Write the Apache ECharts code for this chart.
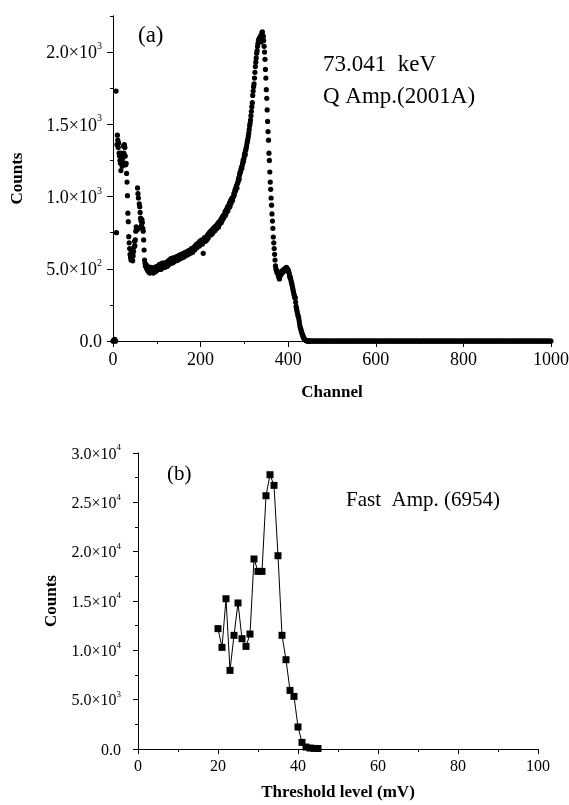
<!DOCTYPE html>
<html>
<head>
<meta charset="utf-8">
<script src="https://cdn.jsdelivr.net/npm/echarts@6/dist/echarts.min.js"></script>
<style>
html,body{margin:0;padding:0;background:#fff;}
#chart{width:569px;height:805px;}
</style>
</head>
<body>
<div id="chart"></div>
<script>
// ---------- Panel (a): pulse-height spectrum, counts per channel ----------
// counts for channels 0..449 (one value per channel)
const spectrumCounts = [
  0, 0, 8, 0, 12, 0, 0, 1730, 750, 1360,
  1425, 1390, 1340, 1370, 1300, 1280, 1250, 1230, 1180, 1300,
  1260, 1210, 1240, 1270, 1350, 1300, 1360, 1340, 1280, 1220,
  1230, 1160, 1100, 1006, 885, 826, 722, 680, 640, 600,
  580, 560, 620, 570, 600, 555, 590, 620, 650, 690,
  660, 700, 760, 790, 780, 770, 1060, 1020, 990, 780,
  950, 930, 890, 850, 830, 800, 840, 820, 780, 760,
  700, 630, 560, 540, 520, 530, 510, 500, 520, 490,
  505, 480, 510, 495, 470, 500, 485, 510, 478, 495,
  505, 482, 470, 498, 488, 492, 510, 480, 500, 515,
  488, 505, 495, 520, 498, 512, 530, 500, 518, 495,
  525, 510, 540, 505, 520, 528, 515, 540, 522, 510,
  535, 545, 520, 530, 518, 540, 555, 528, 545, 560,
  535, 552, 570, 540, 548, 558, 540, 575, 552, 565,
  548, 570, 555, 580, 560, 570, 585, 558, 575, 590,
  565, 578, 595, 570, 582, 585, 600, 575, 592, 588,
  605, 580, 598, 610, 590, 600, 590, 615, 605, 595,
  620, 608, 600, 625, 610, 618, 630, 608, 625, 640,
  620, 635, 615, 645, 630, 640, 650, 632, 660, 645,
  655, 670, 648, 662, 675, 665, 680, 658, 690, 675,
  668, 695, 680, 700, 672, 690, 607, 700, 695, 715,
  705, 690, 720, 710, 700, 720, 735, 712, 740, 728,
  750, 738, 745, 760, 735, 752, 770, 745, 765, 780,
  758, 775, 790, 765, 785, 785, 800, 778, 795, 812,
  800, 790, 825, 808, 818, 825, 840, 818, 850, 835,
  860, 845, 870, 855, 865, 880, 895, 870, 905, 890,
  912, 925, 900, 935, 920, 940, 955, 930, 968, 950,
  980, 965, 990, 975, 995, 1000, 1020, 1010, 1035, 1050,
  1040, 1065, 1075, 1060, 1090, 1095, 1110, 1130, 1120, 1150,
  1165, 1170, 1185, 1200, 1195, 1215, 1230, 1250, 1245, 1265,
  1285, 1300, 1290, 1320, 1335, 1350, 1370, 1385, 1400, 1420,
  1440, 1465, 1490, 1507, 1530, 1560, 1590, 1622, 1650, 1700,
  1730, 1761, 1780, 1820, 1860, 1900, 1930, 1960, 1992, 2010,
  2040, 2060, 2084, 2070, 2095, 2100, 2080, 2110, 2070, 2120,
  2135, 2140, 2095, 2110, 2080, 2040, 2000, 1950, 1880, 1820,
  1740, 1680, 1600, 1520, 1450, 1390, 1300, 1250, 1170, 1100,
  1050, 990, 940, 880, 830, 780, 720, 680, 640, 600,
  560, 520, 500, 490, 480, 470, 480, 460, 450, 440,
  430, 450, 470, 455, 470, 480, 470, 485, 490, 480,
  495, 490, 500, 495, 505, 500, 510, 503, 500, 495,
  490, 480, 470, 455, 440, 440, 425, 410, 400, 385,
  370, 355, 340, 325, 315, 300, 300, 270, 240, 225,
  210, 195, 180, 170, 160, 140, 120, 100, 90, 80,
  68, 58, 48, 40, 32, 25, 19, 14, 10, 7,
  5, 3, 2, 1, 1, 0, 0, 0, 0, 0
];
// counts for channels 450, 452, ..., 1000
const tailStartChannel = 450;
const tailChannelStep = 2;
const tailCounts = [
  0,0,0,0,0,0,0,0,0,0, 0,0,0,0,0,0,0,0,0,0,
  0,0,0,0,0,0,0,0,0,0, 0,0,0,0,0,0,0,0,0,0,
  0,0,0,0,0,0,0,0,0,0, 0,0,0,0,0,0,0,0,0,0,
  0,0,0,0,0,0,0,0,0,0, 0,0,0,0,0,0,0,0,0,0,
  0,0,0,0,0,0,0,0,0,0, 0,0,0,0,0,0,0,0,0,0,
  0,0,0,0,0,0,0,0,0,0, 0,0,0,0,0,0,0,0,0,0,
  0,0,0,0,0,0,0,0,0,0, 0,0,0,0,0,0,0,0,0,0,
  0,0,0,0,0,0,0,0,0,0, 0,0,0,0,0,0,0,0,0,0,
  0,0,0,0,0,0,0,0,0,0, 0,0,0,0,0,0,0,0,0,0,
  0,0,0,0,0,0,0,0,0,0, 0,0,0,0,0,0,0,0,0,0,
  0,0,0,0,0,0,0,0,0,0, 0,0,0,0,0,0,0,0,0,0,
  0,0,0,0,0,0,0,0,0,0, 0,0,0,0,0,0,0,0,0,0,
  0,0,0,0,0,0,0,0,0,0, 0,0,0,0,0,0,0,0,0,0,
  0,0,0,0,0,0,0,0,0,0, 0,0,0,0,0,0
];

// ---------- Panel (b): counts vs threshold level ----------
const thresholdLevels = [20, 21, 22, 23, 24, 25, 26, 27, 28, 29, 30, 31, 32, 33, 34, 35, 36, 37, 38, 39, 40, 41, 42, 43, 44, 45];
const thresholdCounts = [12200, 10300, 15230, 7970, 11520, 14800, 11180, 10400, 11650, 19260, 18000, 18000, 25670, 27800, 26720, 19590, 11520, 9050, 5940, 5330, 2230, 670, 200, 100, 60, 50];

// ---------- Tick labels ----------
const topXTickLabels = ['0', '200', '400', '600', '800', '1000'];
const topXTickValues = [0, 200, 400, 600, 800, 1000];
const topYTickValues = [0, 500, 1000, 1500, 2000];
const topYTickBase = ['0.0', '5.0×10', '1.0×10', '1.5×10', '2.0×10'];
const topYTickExp = ['', '2', '3', '3', '3'];

const botXTickLabels = ['0', '20', '40', '60', '80', '100'];
const botXTickValues = [0, 20, 40, 60, 80, 100];
const botYTickValues = [0, 5000, 10000, 15000, 20000, 25000, 30000];
const botYTickBase = ['0.0', '5.0×10', '1.0×10', '1.5×10', '2.0×10', '2.5×10', '3.0×10'];
const botYTickExp = ['', '3', '4', '4', '4', '4', '4'];

const FONT = '"Liberation Serif", "Times New Roman", serif';

function sciFormatter(values, base, exp) {
  return function (v) {
    const i = values.indexOf(v);
    if (i < 0) return '';
    return exp[i] ? '{b|' + base[i] + '}{e|' + exp[i] + '}' : '{b|' + base[i] + '}';
  };
}
function plainFormatter(values, labels) {
  return function (v) {
    const i = values.indexOf(v);
    return i < 0 ? '' : labels[i];
  };
}

const spectrumData = spectrumCounts.map((c, i) => [i, c])
  .concat(tailCounts.map((c, i) => [tailStartChannel + tailChannelStep * i, c]));
const thresholdData = thresholdLevels.map((x, i) => [x, thresholdCounts[i]]);

const axisLine = { show: true, onZero: false, lineStyle: { color: '#000', width: 1 } };
const nameStyle = { fontFamily: FONT, fontWeight: 'bold', fontSize: 17, color: '#000' };

const chart = echarts.init(document.getElementById('chart'), null, { renderer: 'canvas' });
chart.setOption({
  backgroundColor: '#fff',
  animation: false,
  grid: [
    { left: 113, right: 18, top: 16, bottom: 464, outerBoundsMode: 'none' },
    { left: 138, right: 31, top: 453, bottom: 56, outerBoundsMode: 'none' }
  ],
  xAxis: [
    {
      gridIndex: 0, type: 'value', min: 0, max: 1000, interval: 200,
      name: 'Channel', nameLocation: 'middle', nameGap: 43, nameTextStyle: nameStyle,
      axisLine: axisLine,
      axisTick: { show: true, length: 6, lineStyle: { color: '#000' } },
      minorTick: { show: true, splitNumber: 2, length: 3, lineStyle: { color: '#000' } },
      splitLine: { show: false },
      axisLabel: { margin: 10, fontFamily: FONT, fontSize: 18, color: '#000',
        formatter: plainFormatter(topXTickValues, topXTickLabels) }
    },
    {
      gridIndex: 1, type: 'value', min: 0, max: 100, interval: 20,
      name: 'Threshold level (mV)', nameLocation: 'middle', nameGap: 35, nameTextStyle: nameStyle,
      axisLine: axisLine,
      axisTick: { show: true, length: 5, lineStyle: { color: '#000' } },
      minorTick: { show: true, splitNumber: 2, length: 3, lineStyle: { color: '#000' } },
      splitLine: { show: false },
      axisLabel: { margin: 10, fontFamily: FONT, fontSize: 16, color: '#000',
        formatter: plainFormatter(botXTickValues, botXTickLabels) }
    }
  ],
  yAxis: [
    {
      gridIndex: 0, type: 'value', position: 'left', min: 0, max: 2250, interval: 500,
      name: 'Counts', nameLocation: 'middle', nameGap: 87, nameTextStyle: nameStyle,
      axisLine: axisLine,
      axisTick: { show: true, length: 6, customValues: topYTickValues, lineStyle: { color: '#000' } },
      splitLine: { show: false },
      axisLabel: { margin: 11, color: '#000', customValues: topYTickValues,
        formatter: sciFormatter(topYTickValues, topYTickBase, topYTickExp),
        rich: {
          b: { fontFamily: FONT, fontSize: 18, color: '#000', lineHeight: 21, verticalAlign: 'bottom' },
          e: { fontFamily: FONT, fontSize: 10, color: '#000', lineHeight: 21, verticalAlign: 'top' }
        } }
    },
    {
      gridIndex: 0, type: 'value', position: 'left', offset: 0, min: 0, max: 2250, interval: 250,
      axisLine: axisLine,
      axisTick: { show: true, length: 3, lineStyle: { color: '#000' } },
      splitLine: { show: false },
      axisLabel: { show: false }
    },
    {
      gridIndex: 1, type: 'value', position: 'left', min: 0, max: 30000, interval: 5000,
      name: 'Counts', nameLocation: 'middle', nameGap: 77, nameTextStyle: nameStyle,
      axisLine: axisLine,
      axisTick: { show: true, length: 5, lineStyle: { color: '#000' } },
      minorTick: { show: true, splitNumber: 2, length: 3, lineStyle: { color: '#000' } },
      splitLine: { show: false },
      axisLabel: { margin: 17, color: '#000',
        formatter: sciFormatter(botYTickValues, botYTickBase, botYTickExp),
        rich: {
          b: { fontFamily: FONT, fontSize: 16, color: '#000', lineHeight: 19, verticalAlign: 'bottom' },
          e: { fontFamily: FONT, fontSize: 9, color: '#000', lineHeight: 19, verticalAlign: 'top' }
        } }
    }
  ],
  series: [
    {
      type: 'scatter', xAxisIndex: 0, yAxisIndex: 0,
      data: spectrumData, symbol: 'circle', symbolSize: 5.2,
      itemStyle: { color: '#000', opacity: 1 }, clip: false
    },
    {
      type: 'line', xAxisIndex: 1, yAxisIndex: 2,
      data: thresholdData, symbol: 'rect', symbolSize: 7, showAllSymbol: true,
      lineStyle: { color: '#000', width: 1 }, itemStyle: { color: '#000', opacity: 1 }, clip: false
    }
  ],
  graphic: [
    { type: 'text', left: 138, top: 24, style: { text: '(a)', font: '23px ' + FONT, fill: '#000' } },
    { type: 'text', left: 323, top: 53, style: { text: '73.041  keV', font: '23px ' + FONT, fill: '#000' } },
    { type: 'text', left: 323, top: 85, style: { text: 'Q Amp.(2001A)', font: '23px ' + FONT, fill: '#000' } },
    { type: 'text', left: 167, top: 464, style: { text: '(b)', font: '21px ' + FONT, fill: '#000' } },
    { type: 'text', left: 346, top: 490, style: { text: 'Fast  Amp. (6954)', font: '21px ' + FONT, fill: '#000' } }
  ]
});
</script>
</body>
</html>
